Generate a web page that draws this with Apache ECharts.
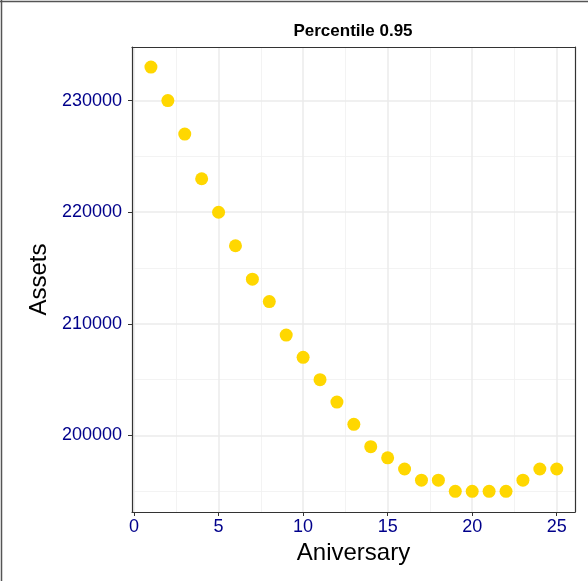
<!DOCTYPE html>
<html>
<head>
<meta charset="utf-8">
<script src="https://cdn.jsdelivr.net/npm/echarts@6/dist/echarts.min.js"></script>
<style>
  html, body { margin: 0; padding: 0; background: #fff; }
  #chart { width: 588px; height: 581px; }
</style>
</head>
<body>
<div id="chart"></div>
<script>
// Anniversary number and asset value at the 0.95 percentile
const aniversary = [1, 2, 3, 4, 5, 6, 7, 8, 9, 10, 11, 12, 13, 14, 15, 16, 17, 18, 19, 20, 21, 22, 23, 24, 25];
const assets = [233000, 230000, 227000, 223000, 220000, 217000, 214000, 212000, 209000, 207000,
                205000, 203000, 201000, 199000, 198000, 197000, 196000, 196000, 195000, 195000,
                195000, 195000, 196000, 197000, 197000];

// Tick and grid positions
const xTicks = [0, 5, 10, 15, 20, 25];
const xMinor = [2.5, 7.5, 12.5, 17.5, 22.5];
const yTicks = [200000, 210000, 220000, 230000];
const yMinor = [195000, 205000, 215000, 225000];

const xRange = [-0.12, 26.08];
const yRange = [193150, 234800];

const tickColor = '#00008B';
const font = 'Liberation Sans, Arial, Helvetica, sans-serif';
const frame = { show: true, onZero: false, lineStyle: { color: '#333333', width: 1.2 } };

function gridLines(list, key, width, color) {
  return list.map(v => ({ [key]: v, lineStyle: { width: width, color: color, type: 'solid' } }));
}

// bare axis used only to close the panel frame on the opposite side
function frameAxis(range, position) {
  return {
    type: 'value', min: range[0], max: range[1], position: position,
    axisLine: frame, axisTick: { show: false }, axisLabel: { show: false }, splitLine: { show: false }
  };
}

const chart = echarts.init(document.getElementById('chart'), null, { renderer: 'canvas' });

chart.setOption({
  backgroundColor: '#ffffff',
  animation: false,
  textStyle: { fontFamily: font },
  grid: {
    left: 132, right: 13, top: 47, bottom: 69,
    show: false
  },
  xAxis: [{
    type: 'value',
    min: xRange[0], max: xRange[1],
    position: 'bottom',
    name: 'Aniversary',
    nameLocation: 'middle',
    nameGap: 27,
    nameTextStyle: { fontSize: 24, color: '#000', fontFamily: font },
    axisLine: frame,
    axisTick: { show: true, customValues: xTicks, length: 4, lineStyle: { color: '#333333', width: 1 } },
    axisLabel: { customValues: xTicks, fontSize: 18, color: tickColor, margin: 6, fontFamily: font,
                 formatter: v => String(v) },
    splitLine: { show: false }
  }, frameAxis(xRange, 'top')],
  yAxis: [{
    type: 'value',
    min: yRange[0], max: yRange[1],
    position: 'left',
    name: 'Assets',
    nameLocation: 'middle',
    nameGap: 70,
    nameTextStyle: { fontSize: 24, color: '#000', fontFamily: font },
    axisLine: frame,
    axisTick: { show: true, customValues: yTicks, length: 4, lineStyle: { color: '#333333', width: 1 } },
    axisLabel: { customValues: yTicks, fontSize: 18, color: tickColor, margin: 10, fontFamily: font,
                 formatter: v => String(v) },
    splitLine: { show: false }
  }, frameAxis(yRange, 'right')],
  graphic: [
    { type: 'line', shape: { x1: 1.5, y1: 0, x2: 1.5, y2: 581 }, style: { stroke: '#555555', lineWidth: 1.5 } },
    { type: 'line', shape: { x1: 0, y1: 1.5, x2: 588, y2: 1.5 }, style: { stroke: '#555555', lineWidth: 1.5 } },
    {
      type: 'text', x: 353, y: 31,
      style: {
        text: 'Percentile 0.95', fontSize: 17, fontWeight: 'bold', fill: '#000',
        fontFamily: font, align: 'center', verticalAlign: 'middle'
      }
    }
  ],
  series: [
    {
      // panel grid lines
      type: 'line',
      data: [],
      z: 0,
      silent: true,
      markLine: {
        silent: true,
        z: 0,
        symbol: ['none', 'none'],
        label: { show: false },
        animation: false,
        data: [].concat(
          gridLines(xMinor, 'xAxis', 0.8, '#f0f0f0'),
          gridLines(yMinor, 'yAxis', 0.8, '#f0f0f0'),
          gridLines(xTicks, 'xAxis', 1.5, '#ebebeb'),
          gridLines(yTicks, 'yAxis', 1.5, '#ebebeb')
        )
      }
    },
    {
      type: 'scatter',
      zlevel: 1,
      z: 5,
      symbol: 'circle',
      symbolSize: 13,
      itemStyle: { color: '#FFD700', opacity: 1 },
      data: aniversary.map((x, i) => [x, assets[i]])
    }
  ]
});
</script>
</body>
</html>
